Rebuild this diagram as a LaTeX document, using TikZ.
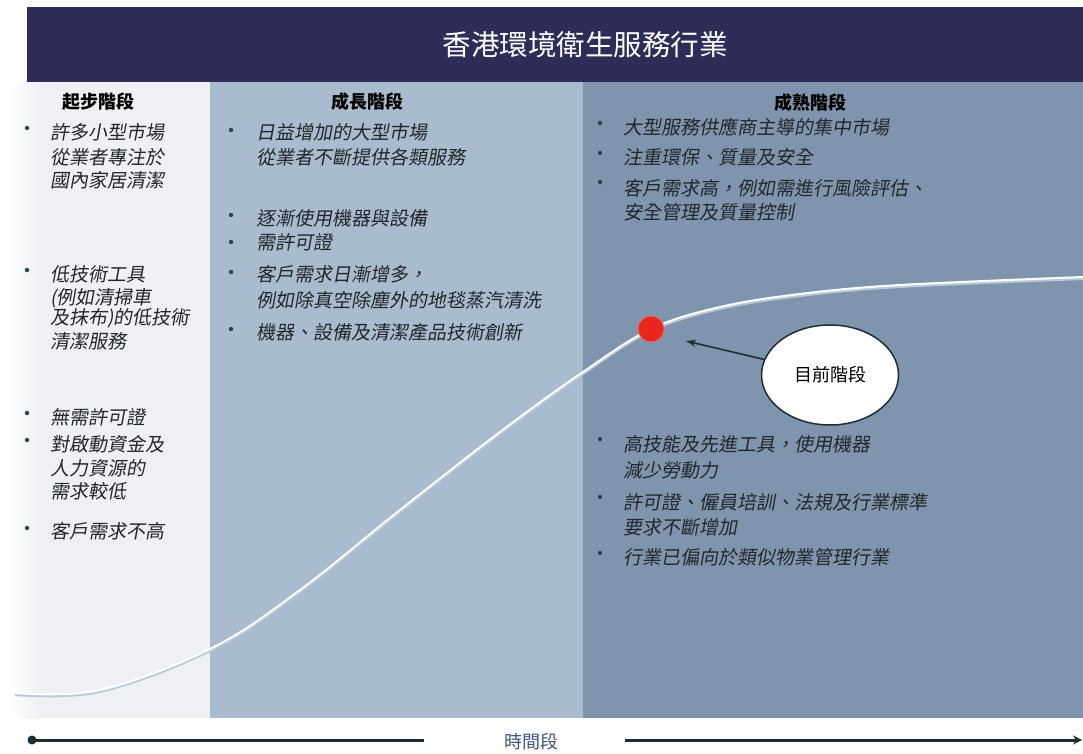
\documentclass[tikz,border=0pt]{standalone}
\usepackage{fontspec}
\setmainfont{Noto Sans CJK TC}
\newfontfamily\itcjk{Noto Sans CJK TC}[FakeSlant=0.18]
\usetikzlibrary{arrows.meta,shapes.geometric}
\definecolor{hdr}{HTML}{2E2D58}
\definecolor{colL}{HTML}{EEF0F3}
\definecolor{colM}{HTML}{A9BBCE}
\definecolor{colR}{HTML}{7F95AD}
\definecolor{bulc}{HTML}{2A4650}
\definecolor{txtc}{HTML}{222629}
\definecolor{reddot}{HTML}{E8261E}
\definecolor{axisc}{HTML}{1D2E35}
\definecolor{timec}{HTML}{3C5280}
\definecolor{curveshadow}{HTML}{B9CADB}
\begin{document}
\begin{tikzpicture}[x=1pt,y=-1pt,
  bul/.style={circle,fill=bulc,inner sep=0pt,minimum size=4.5pt},
  txt/.style={anchor=west,inner sep=0pt,font=\itcjk\fontsize{19}{22}\selectfont,text=txtc},
  head/.style={inner sep=0pt,font=\bfseries\fontsize{18}{20}\selectfont,text=black},
  axisline/.style={draw=axisc,line width=3pt}]
\useasboundingbox (0,0) rectangle (1083,754);
\fill[white] (0,0) rectangle (1083,754);
% columns
\fill[colL] (27,82) rectangle (211,718);
\shade[left color=white,right color=colL] (10,82) rectangle (40,718);
\fill[colM] (210,82) rectangle (583,718);
\fill[colR] (583,82) rectangle (1083,718);
% header
\fill[hdr] (27,7) rectangle (1083,82);
\node[inner sep=0pt,text=white,font=\fontsize{28.5}{30}\selectfont] (title) at (585,45) {香港環境衛生服務行業};
% column headings
\node[head] (h1) at (98,102) {起步階段};
\node[head] (h2) at (367,102) {成長階段};
\node[head] (h3) at (810,103) {成熟階段};
% left column
\node[bul] (b1) at (27,128) {};
\node[txt] (l1) at (50,132) {許多小型市場};
\node[txt] (l2) at (50,157) {從業者專注於};
\node[txt] (l3) at (50,180) {國內家居清潔};
\node[bul] (b2) at (27,270) {};
\node[txt] (l4) at (50,274) {低技術工具};
\node[txt] (l5) at (50,298) {(例如清掃車};
\node[txt] (l6) at (50,318) {及抹布)的低技術};
\node[txt] (l7) at (50,341) {清潔服務};
\node[bul] (b3) at (27,413) {};
\node[txt] (l8) at (50,417) {無需許可證};
\node[bul] (b4) at (27,440) {};
\node[txt] (l9) at (50,444) {對啟動資金及};
\node[txt] (l10) at (50,468) {人力資源的};
\node[txt] (l11) at (50,491) {需求較低};
\node[bul] (b5) at (27,528) {};
\node[txt] (l12) at (50,531) {客戶需求不高};
% middle column
\node[bul] (m1) at (231,130) {};
\node[txt] (n1) at (256,132) {日益增加的大型市場};
\node[txt] (n2) at (256,157) {從業者不斷提供各類服務};
\node[bul] (m2) at (231,215) {};
\node[txt] (n3) at (256,218) {逐漸使用機器與設備};
\node[bul] (m3) at (231,242) {};
\node[txt] (n4) at (256,242) {需許可證};
\node[bul] (m4) at (231,272) {};
\node[txt] (n5) at (256,274) {客戶需求日漸增多，};
\node[txt] (n6) at (256,300) {例如除真空除塵外的地毯蒸汽清洗};
\node[bul] (m5) at (231,329) {};
\node[txt] (n7) at (256,332) {機器、設備及清潔產品技術創新};
% right column
\node[bul] (r1) at (600,123) {};
\node[txt] (q1) at (623,127) {大型服務供應商主導的集中市場};
\node[bul] (r2) at (600,153) {};
\node[txt] (q2) at (623,157) {注重環保、質量及安全};
\node[bul] (r3) at (600,182) {};
\node[txt] (q3) at (623,188) {客戶需求高，例如需進行風險評估、};
\node[txt] (q4) at (623,212) {安全管理及質量控制};
\node[bul] (r4) at (600,439) {};
\node[txt] (q5) at (623,444) {高技能及先進工具，使用機器};
\node[txt] (q6) at (623,470) {減少勞動力};
\node[bul] (r5) at (600,497) {};
\node[txt] (q7) at (623,502) {許可證、僱員培訓、法規及行業標準};
\node[txt] (q8) at (623,527) {要求不斷增加};
\node[bul] (r6) at (600,553) {};
\node[txt] (q9) at (623,557) {行業已偏向於類似物業管理行業};
% curve
\draw[curveshadow,line width=3pt,yshift=-1.5pt] plot[smooth,tension=0.6] coordinates {(15,693) (100,690) (212,648) (300,590) (400,510) (500,432) (583,372) (651,329) (720,307) (800,294) (900,285) (1083,277)};
\draw[white,line width=2pt] plot[smooth,tension=0.6] coordinates {(15,693) (100,690) (212,648) (300,590) (400,510) (500,432) (583,372) (651,329) (720,307) (800,294) (900,285) (1083,277)};
\node[circle,fill=reddot,draw=reddot!70!white,line width=0.8pt,minimum size=26pt,inner sep=0pt] (dot) at (651,329) {};
% current stage ellipse
\node[ellipse,draw=axisc,line width=1.5pt,fill=white,minimum width=137pt,minimum height=100pt,inner sep=0pt,font=\fontsize{18}{20}\selectfont] (cur) at (830,375) {目前階段};
\coordinate (tip) at (686,341);
\draw[axisc,line width=1.6pt,-{Stealth[length=10pt,width=7pt]}] (cur) -- (tip);
% time axis
\coordinate (a0) at (32,740);
\coordinate (a1) at (424,740);
\node[inner sep=0pt,text=timec,font=\fontsize{18}{20}\selectfont] (tl) at (531,742) {時間段};
\coordinate (a2) at (625,740);
\coordinate (a3) at (1082,740);
\draw[axisline] (a0) -- (a1);
\fill[axisc] (a0) circle (4.5pt);
\draw[axisline,-{Stealth[length=9pt,width=9pt]}] (a2) -- (a3);
\end{tikzpicture}
\end{document}
